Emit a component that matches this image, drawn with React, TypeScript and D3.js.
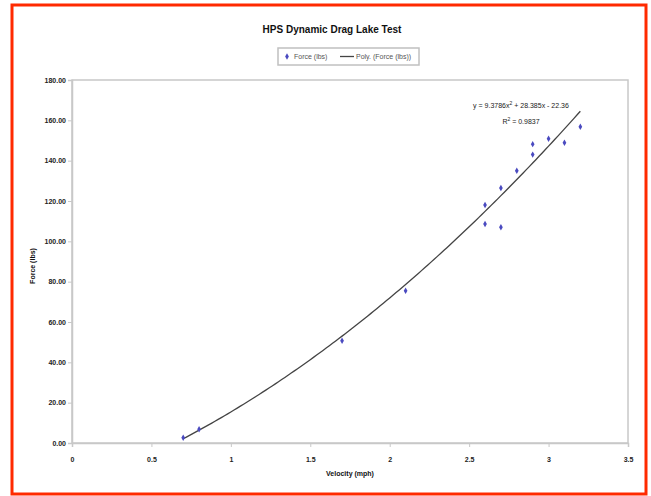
import React, { useEffect, useRef } from 'react';
import * as d3 from 'd3';

const velocity = [0.7, 0.8, 1.7, 2.1, 2.6, 2.6, 2.7, 2.7, 2.8, 2.9, 2.9, 3.0, 3.1, 3.2];
const force = [2.6, 6.8, 50.7, 75.5, 118, 108.6, 126.4, 107, 135, 143, 148.2, 150.9, 148.9, 156.8];
// trendline coefficients as printed on the chart: a x^2 + b x + c
const trendCoef = [9.3786, 28.385, -22.36];
const xTicks = [0, 0.5, 1, 1.5, 2, 2.5, 3, 3.5];
const yTicks = [0, 20, 40, 60, 80, 100, 120, 140, 160, 180];

const W = 651;
const H = 496;
const FONT = 'Liberation Sans, Arial, sans-serif';

export default function App() {
  const ref = useRef<SVGSVGElement>(null);

  useEffect(() => {
    const svg = d3.select(ref.current);
    svg.selectAll('*').remove();

    const plot = { left: 72, top: 80, right: 628, bottom: 443 };
    const x = d3.scaleLinear().domain([0, 3.5]).range([plot.left, plot.right]);
    const y = d3.scaleLinear().domain([0, 180]).range([plot.bottom, plot.top]);

    svg.append('rect').attr('width', W).attr('height', H).attr('fill', '#fff');
    svg.append('rect')
      .attr('x', 12).attr('y', 5).attr('width', 634).attr('height', 489)
      .attr('fill', 'none').attr('stroke', '#ff2a00').attr('stroke-width', 3);

    // plot area frame
    svg.append('rect')
      .attr('x', plot.left).attr('y', plot.top)
      .attr('width', plot.right - plot.left).attr('height', plot.bottom - plot.top)
      .attr('fill', 'none').attr('stroke', '#c8c8c8').attr('stroke-width', 1.5);

    svg.append('g')
      .attr('transform', `translate(${plot.left},0)`)
      .call(d3.axisLeft(y).tickValues(yTicks).tickSize(4).tickFormat(d3.format('.2f')))
      .call((g) => g.select('.domain').attr('stroke', '#c8c8c8').attr('stroke-width', 1.5))
      .call((g) => g.selectAll('.tick line').attr('stroke', '#c8c8c8'))
      .call((g) => g.selectAll('text').attr('fill', '#222').attr('font-size', 7).attr('font-family', FONT).attr('font-weight', 'bold').attr('x', -6));

    svg.append('g')
      .attr('transform', `translate(0,${plot.bottom})`)
      .call(d3.axisBottom(x).tickValues(xTicks).tickSize(4).tickFormat((d) => String(d)))
      .call((g) => g.select('.domain').attr('stroke', '#c8c8c8').attr('stroke-width', 1.5))
      .call((g) => g.selectAll('.tick line').attr('stroke', '#c8c8c8'))
      .call((g) => g.selectAll('text').attr('fill', '#222').attr('font-size', 7).attr('font-family', FONT).attr('font-weight', 'bold').attr('y', 14));

    // polynomial trendline over the data range
    const [a, b, c] = trendCoef;
    const xs = d3.range(d3.min(velocity)!, d3.max(velocity)! + 0.001, 0.02);
    const line = d3.line<number>().x((v) => x(v)).y((v) => y(a * v * v + b * v + c));
    svg.append('path')
      .datum(xs)
      .attr('d', line)
      .attr('fill', 'none')
      .attr('stroke', '#444')
      .attr('stroke-width', 1.3);

    const pts = velocity.map((v, i) => [v, force[i]]);
    svg.append('g')
      .selectAll('path')
      .data(pts)
      .join('path')
      .attr('transform', (d) => `translate(${x(d[0])},${y(d[1])})`)
      .attr('d', d3.symbol(d3.symbolDiamond, 12)())
      .attr('fill', '#4a4ac0');

    svg.append('text')
      .attr('x', 332).attr('y', 33)
      .attr('text-anchor', 'middle')
      .attr('font-family', FONT).attr('font-size', 10).attr('font-weight', 'bold')
      .attr('fill', '#111')
      .text('HPS Dynamic Drag Lake Test');

    // legend
    const lg = svg.append('g').attr('transform', 'translate(278,48)');
    lg.append('rect').attr('width', 141).attr('height', 17)
      .attr('fill', '#fff').attr('stroke', '#c0c0c0').attr('stroke-width', 1.5);
    lg.append('path')
      .attr('transform', 'translate(9,8.5)')
      .attr('d', d3.symbol(d3.symbolDiamond, 12)())
      .attr('fill', '#4a4ac0');
    lg.append('text').attr('x', 16).attr('y', 11).attr('font-family', FONT).attr('font-size', 7)
      .attr('fill', '#555').text('Force (lbs)');
    lg.append('line').attr('x1', 62).attr('x2', 76).attr('y1', 8.5).attr('y2', 8.5)
      .attr('stroke', '#444').attr('stroke-width', 1.3);
    lg.append('text').attr('x', 78).attr('y', 11).attr('font-family', FONT).attr('font-size', 7)
      .attr('fill', '#555').text('Poly. (Force (lbs))');

    // equation
    svg.append('text').attr('x', 521).attr('y', 108).attr('text-anchor', 'middle')
      .attr('font-family', FONT).attr('font-size', 7).attr('fill', '#222')
      .html('y = 9.3786x<tspan dy="-3" font-size="5">2</tspan><tspan dy="3"> + 28.385x - 22.36</tspan>');
    svg.append('text').attr('x', 521).attr('y', 124).attr('text-anchor', 'middle')
      .attr('font-family', FONT).attr('font-size', 7).attr('fill', '#222')
      .html('R<tspan dy="-3" font-size="5">2</tspan><tspan dy="3"> = 0.9837</tspan>');

    svg.append('text')
      .attr('x', 350).attr('y', 476).attr('text-anchor', 'middle')
      .attr('font-family', FONT).attr('font-size', 7).attr('font-weight', 'bold').attr('fill', '#111')
      .text('Velocity (mph)');
    svg.append('text')
      .attr('transform', 'translate(35,266) rotate(-90)')
      .attr('text-anchor', 'middle')
      .attr('font-family', FONT).attr('font-size', 7).attr('font-weight', 'bold').attr('fill', '#111')
      .text('Force (lbs)');
  }, []);

  return (
    <svg
      ref={ref}
      width={W}
      height={H}
      style={{ position: 'absolute', left: 0, top: 0, display: 'block' }}
    />
  );
}
